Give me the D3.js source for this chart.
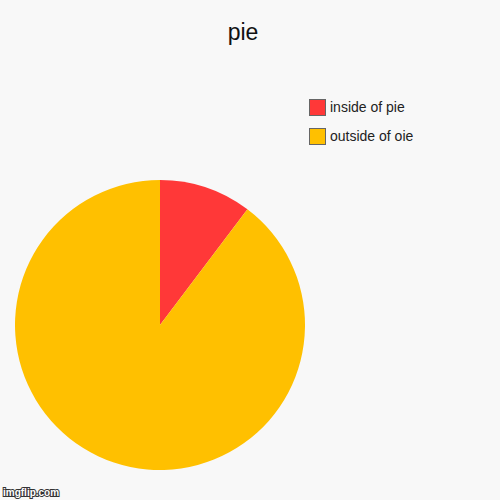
<!DOCTYPE html>
<html>
<head>
<meta charset="utf-8">
<script src="https://cdn.jsdelivr.net/npm/d3@7"></script>
<style>
  body { margin: 0; background: #f8f8f8; }
  svg { display: block; font-family: "Liberation Sans", Arial, sans-serif; }
</style>
</head>
<body>
<div id="chart"></div>
<script>
/* DATA */
const labels = ["inside of pie", "outside of oie"];
const values = [10.3, 89.7];
const colors = ["#ff3838", "#ffc000"];
const title = "pie";

const width = 500,
  height = 500,
  cx = 160,
  cy = 325,
  radius = 145;

const svg = d3.select("#chart")
  .append("svg")
  .attr("width", width)
  .attr("height", height);

svg.append("rect")
  .attr("width", width)
  .attr("height", height)
  .attr("fill", "#f8f8f8");

// title
svg.append("text")
  .attr("x", 243)
  .attr("y", 40)
  .attr("text-anchor", "middle")
  .attr("font-size", 23)
  .attr("fill", "#111")
  .text(title);

// pie, clockwise from 12 o'clock, no sorting
const pie = d3.pie().sort(null).value(d => d);
const arc = d3.arc().innerRadius(0).outerRadius(radius);
const color = d3.scaleOrdinal().domain(labels).range(colors);

svg.append("g")
  .attr("transform", `translate(${cx},${cy})`)
  .selectAll("path")
  .data(pie(values))
  .join("path")
  .attr("d", arc)
  .attr("fill", (d, i) => color(labels[i]));

// legend
const legend = svg.append("g")
  .attr("transform", "translate(309,99)")
  .selectAll("g")
  .data(labels)
  .join("g")
  .attr("transform", (d, i) => `translate(0,${i * 29})`);

legend.append("rect")
  .attr("x", 0.5)
  .attr("y", 0.5)
  .attr("width", 16)
  .attr("height", 16)
  .attr("fill", d => color(d))
  .attr("stroke", "#666")
  .attr("stroke-width", 1);

legend.append("text")
  .attr("x", 21)
  .attr("y", 13)
  .attr("font-size", 14)
  .attr("fill", "#222")
  .text(d => d);

// watermark
svg.append("text")
  .attr("x", 3)
  .attr("y", 496)
  .attr("font-size", 10)
  .attr("font-weight", "bold")
  .attr("fill", "#fff")
  .attr("stroke", "#333")
  .attr("stroke-width", 2)
  .attr("paint-order", "stroke")
  .text("imgflip.com");
</script>
</body>
</html>
